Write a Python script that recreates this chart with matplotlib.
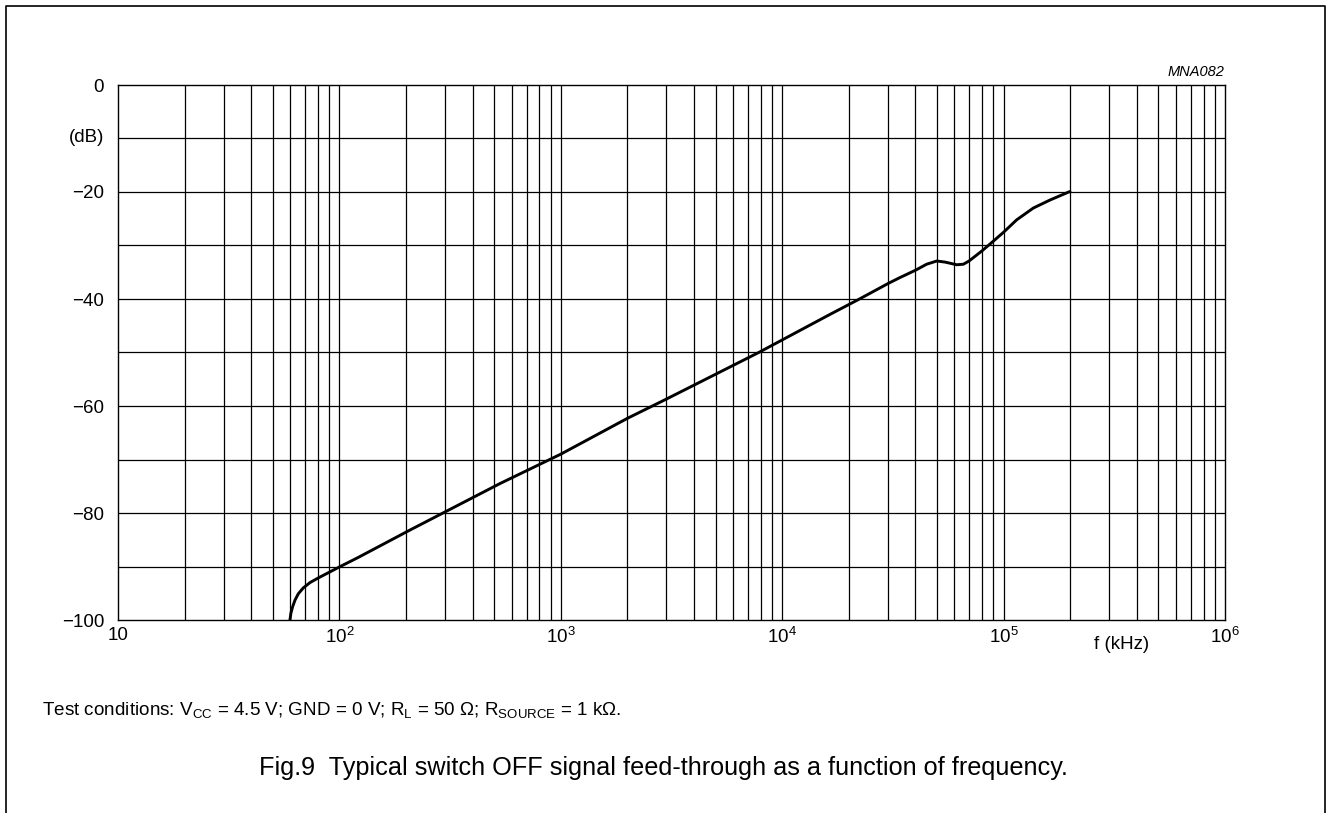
import matplotlib
matplotlib.use("Agg")
import matplotlib.pyplot as plt
from matplotlib.lines import Line2D

plt.rcParams['font.family'] = ['Liberation Sans', 'DejaVu Sans']
plt.rcParams['mathtext.fontset'] = 'custom'
plt.rcParams['mathtext.rm'] = 'Liberation Sans'
plt.rcParams['mathtext.it'] = 'Liberation Sans:italic'
plt.rcParams['mathtext.bf'] = 'Liberation Sans:bold'

# data (f in kHz, feed-through in dB)
freq_khz = [59.8, 60.4, 61.5, 63.0, 65.2, 68.7, 73.7, 80.6, 90.7, 100.9, 121.7,
            208, 531, 1000, 2000, 3000, 7830, 16400, 22100, 30100,
            34000, 40100, 44900, 49900, 54400, 61400, 65800, 69800, 79900, 89800,
            100100, 114600, 136200, 162000, 199500]
feed_db = [-100.0, -98.7, -97.5, -96.3, -95.1, -94.0, -93.0, -92.1, -91.0, -90.0, -88.3,
           -83.2, -74.5, -69.0, -62.3, -58.7, -50.0, -42.9, -40.1, -37.1,
           -36.0, -34.6, -33.5, -32.9, -33.1, -33.6, -33.5, -32.9, -31.0, -29.2,
           -27.5, -25.2, -23.0, -21.5, -19.9]

y_ticks = [0, -20, -40, -60, -80, -100]
y_tick_labels = ["0", "\u221220", "\u221240", "\u221260", "\u221280", "\u2212100"]
x_ticks = [10, 1e2, 1e3, 1e4, 1e5, 1e6]
x_tick_labels = ["10", "$10^{2}$", "$10^{3}$", "$10^{4}$", "$10^{5}$", "$10^{6}$"]

W, H = 1327, 813
fig = plt.figure(figsize=(W / 100, H / 100), dpi=100)
ax = fig.add_axes([118 / W, 1 - 620 / H, (1225 - 118) / W, (620 - 85) / H])

ax.set_xscale('log')
ax.set_xlim(10, 1e6)
ax.set_ylim(-100, 0)

# grid: every decade subdivision and every 10 dB
for dec in range(1, 6):
    for m in range(1, 10):
        xv = m * 10 ** dec
        if 10 < xv < 1e6:
            ax.axvline(xv, color='black', lw=0.9, zorder=1)
for yv in range(-90, 0, 10):
    ax.axhline(yv, color='black', lw=0.9, zorder=1)

ax.plot(freq_khz, feed_db, color='black', lw=2.1, zorder=3,
        solid_capstyle='round', solid_joinstyle='round')

for s in ax.spines.values():
    s.set_linewidth(1.0)
    s.set_color('black')

ax.set_yticks(y_ticks)
ax.set_yticklabels(y_tick_labels, fontsize=13.5)
ax.set_xticks(x_ticks)
ax.set_xticklabels(x_tick_labels, fontsize=13.5)
ax.xaxis.set_minor_locator(matplotlib.ticker.NullLocator())
ax.tick_params(axis='y', length=0, pad=10)
ax.tick_params(axis='x', length=0, pad=5)

fig.text(104 / W, 1 - 138 / H, "(dB)", fontsize=13.5, ha='right', va='center')
fig.text(1122 / W, 1 - 644 / H, "f (kHz)", fontsize=13.5, ha='center', va='center')
fig.text(1224 / W, 1 - 72 / H, "MNA082", fontsize=10.5, ha='right', va='center', style='italic')

fig.text(42 / W, 1 - 710 / H,
         r"Test conditions: V$_{\mathrm{CC}}$ = 4.5 V; GND = 0 V; R$_{\mathrm{L}}$ = 50 Ω; "
         r"R$_{\mathrm{SOURCE}}$ = 1 kΩ.",
         fontsize=13.6, ha='left', va='center')
fig.text(663 / W, 1 - 768 / H,
         "Fig.9  Typical switch OFF signal feed-through as a function of frequency.",
         fontsize=18.2, ha='center', va='center')

# outer frame (open at bottom)
fx0, fx1, fy0 = 5.5 / W, 1324.5 / W, 1 - 6.5 / H
fig.add_artist(Line2D([fx0, fx0, fx1, fx1], [0, fy0, fy0, 0], color='black', lw=1.2,
                      transform=fig.transFigure))

fig.savefig("out.png", dpi=100)
